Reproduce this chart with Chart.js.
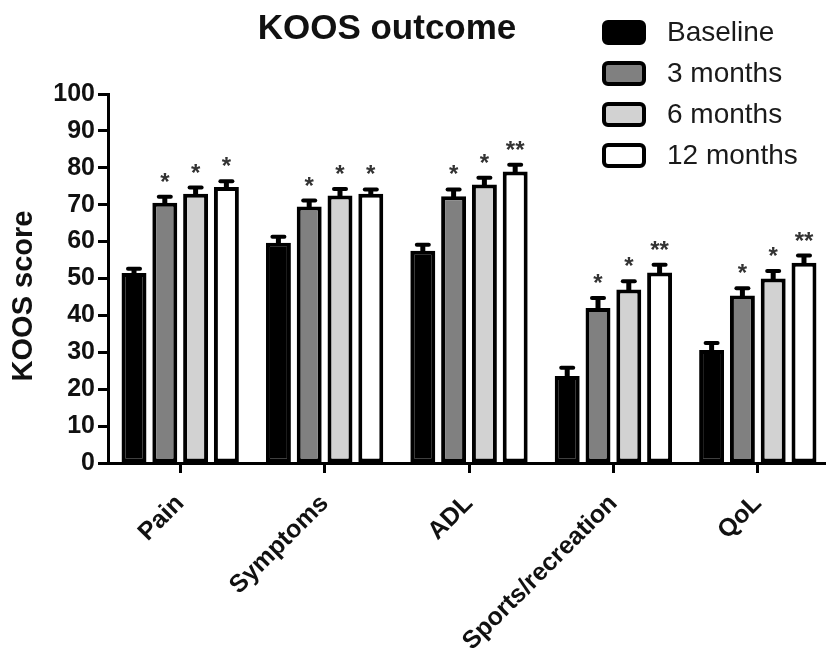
<!DOCTYPE html>
<html lang="en">
<head>
  <meta charset="UTF-8">
  <title>KOOS outcome</title>
  <style>
    body {
      margin: 0;
      padding: 0;
      background: #ffffff;
      overflow: hidden;
    }
    #koos-chart {
      display: block;
    }
  </style>
  <script src="https://cdn.jsdelivr.net/npm/chart.js"></script>
</head>
<body>
  <canvas id="koos-chart" width="830" height="664"></canvas>

  <script>
    // KOOS subscales
    const categories = ['Pain', 'Symptoms', 'ADL', 'Sports/recreation', 'QoL'];

    // mean scores per follow-up
    const baseline = [51.5, 59.7, 57.5, 23.6, 30.6];
    const months3 = [70.5, 69.5, 72.3, 42.0, 45.4];
    const months6 = [73.0, 72.5, 75.5, 47.0, 50.0];
    const months12 = [74.8, 73.0, 79.0, 51.6, 54.3];

    // SEM (upper error bar only)
    const baselineErr = [1.4, 1.9, 1.9, 2.5, 2.2];
    const months3Err = [1.9, 1.9, 2.1, 3.0, 2.2];
    const months6Err = [1.9, 2.0, 2.1, 2.5, 2.3];
    const months12Err = [1.8, 1.4, 2.1, 2.4, 2.2];

    // significance vs baseline
    const months3Sig = ['*', '*', '*', '*', '*'];
    const months6Sig = ['*', '*', '*', '*', '*'];
    const months12Sig = ['*', '*', '**', '**', '**'];

    const yTicks = [0, 10, 20, 30, 40, 50, 60, 70, 80, 90, 100];

    const ink = '#111111';
    const face = '"Liberation Sans", Arial, sans-serif';

    // error bars + asterisks on top of each bar
    const errorBars = {
      id: 'errorBars',
      afterDatasetsDraw(chart) {
        const ctx = chart.ctx;
        const y = chart.scales.y;
        chart.data.datasets.forEach((ds, i) => {
          const meta = chart.getDatasetMeta(i);
          meta.data.forEach((bar, j) => {
            const top = y.getPixelForValue(ds.data[j] + ds.errors[j]);
            const x = bar.x;
            ctx.save();
            ctx.strokeStyle = '#000';
            ctx.lineWidth = 5;
            ctx.beginPath();
            ctx.moveTo(x, bar.y + 2);
            ctx.lineTo(x, top);
            ctx.stroke();
            ctx.lineWidth = 4;
            ctx.lineCap = 'round';
            ctx.beginPath();
            ctx.moveTo(x - 6, top + 1);
            ctx.lineTo(x + 6, top + 1);
            ctx.stroke();
            if (ds.sig && ds.sig[j]) {
              ctx.fillStyle = '#333';
              ctx.font = 'bold 24px ' + face;
              ctx.textAlign = 'center';
              ctx.textBaseline = 'alphabetic';
              ctx.fillText(ds.sig[j], x, top - 6);
            }
            ctx.restore();
          });
        });
      }
    };

    // title, y-axis caption and stacked legend
    const header = {
      id: 'header',
      afterDraw(chart) {
        const ctx = chart.ctx;
        ctx.save();
        ctx.fillStyle = ink;
        ctx.font = 'bold 35px ' + face;
        ctx.textAlign = 'center';
        ctx.textBaseline = 'alphabetic';
        ctx.fillText('KOOS outcome', 387, 39);

        // y caption sits a little below the axis midpoint
        ctx.save();
        ctx.translate(24, 296);
        ctx.rotate(-Math.PI / 2);
        ctx.font = 'bold 29px ' + face;
        ctx.textBaseline = 'middle';
        ctx.fillText('KOOS score', 0, 0);
        ctx.restore();

        ctx.font = '28px ' + face;
        ctx.textAlign = 'left';
        ctx.textBaseline = 'middle';
        chart.data.datasets.forEach((ds, i) => {
          const cy = 32 + i * 41;
          ctx.beginPath();
          ctx.roundRect(604, cy - 10, 40, 21, 4);
          ctx.fillStyle = ds.backgroundColor;
          ctx.fill();
          ctx.lineWidth = 4;
          ctx.strokeStyle = '#000';
          ctx.stroke();
          ctx.fillStyle = '#1a1a1a';
          ctx.fillText(ds.label, 667, cy + 1);
        });
        ctx.restore();
      }
    };

    const barStyle = {
      borderColor: '#000',
      borderWidth: 4,
      borderSkipped: false,
      categoryPercentage: 0.853,
      barPercentage: 0.81
    };

    new Chart(document.getElementById('koos-chart'), {
      type: 'bar',
      data: {
        labels: categories,
        datasets: [
          { label: 'Baseline', data: baseline, errors: baselineErr, sig: null, backgroundColor: '#000000', ...barStyle },
          { label: '3 months', data: months3, errors: months3Err, sig: months3Sig, backgroundColor: '#808080', ...barStyle },
          { label: '6 months', data: months6, errors: months6Err, sig: months6Sig, backgroundColor: '#d2d2d2', ...barStyle },
          { label: '12 months', data: months12, errors: months12Err, sig: months12Sig, backgroundColor: '#ffffff', ...barStyle }
        ]
      },
      options: {
        responsive: false,
        animation: false,
        devicePixelRatio: 1,
        layout: { padding: { top: 94, left: 0, right: 0, bottom: 0 } },
        plugins: {
          legend: { display: false },
          title: { display: false },
          tooltip: { enabled: false }
        },
        scales: {
          x: {
            afterFit(scale) { scale.height = 201; },
            grid: {
              offset: false,
              drawOnChartArea: false,
              tickLength: 10,
              tickWidth: 3,
              tickColor: '#000'
            },
            border: { color: '#000', width: 3 },
            ticks: {
              color: ink,
              font: { family: face, size: 25, weight: 'bold' },
              minRotation: 45,
              maxRotation: 45,
              padding: 16
            }
          },
          y: {
            min: 0,
            max: 100,
            afterFit(scale) { scale.width = 108; },
            afterBuildTicks(scale) { scale.ticks = yTicks.map(v => ({ value: v })); },
            grid: {
              drawOnChartArea: false,
              tickLength: 10,
              tickWidth: 3,
              tickColor: '#000'
            },
            border: { color: '#000', width: 3 },
            ticks: {
              color: ink,
              font: { family: face, size: 25, weight: 'bold' },
              padding: 3
            }
          }
        }
      },
      plugins: [errorBars, header]
    });
  </script>
</body>
</html>
